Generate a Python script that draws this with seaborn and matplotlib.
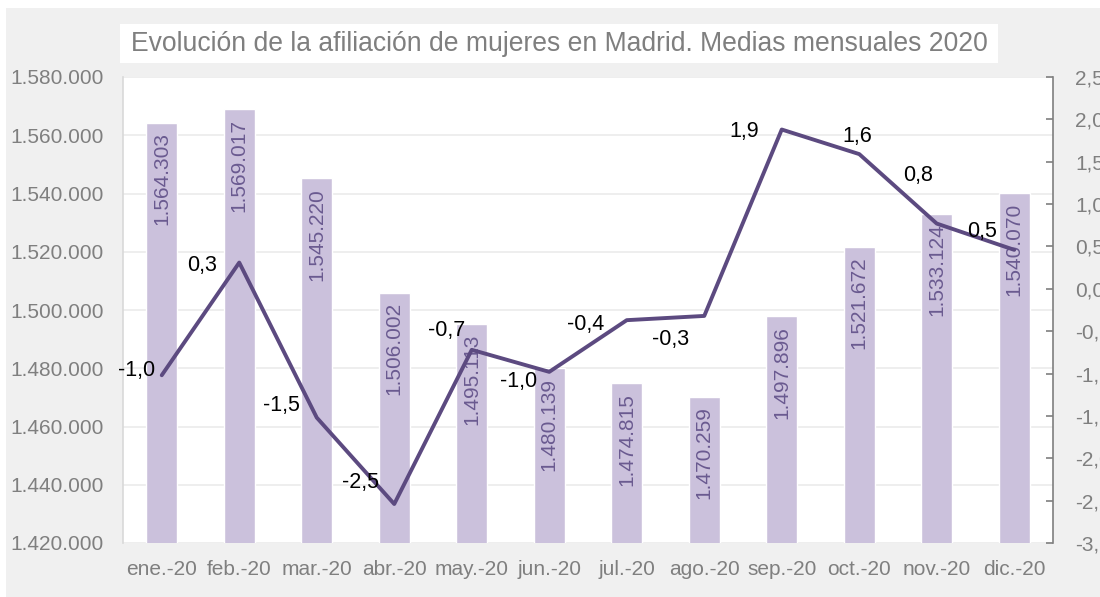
import numpy as np
import seaborn as sns
import matplotlib.pyplot as plt
from matplotlib.patches import Rectangle

# Data
months = ['ene.-20', 'feb.-20', 'mar.-20', 'abr.-20', 'may.-20', 'jun.-20',
          'jul.-20', 'ago.-20', 'sep.-20', 'oct.-20', 'nov.-20', 'dic.-20']
afiliadas = [1564303, 1569017, 1545220, 1506002, 1495113, 1480139,
             1474815, 1470259, 1497896, 1521672, 1533124, 1540070]
variacion = [-1.02, 0.31, -1.52, -2.54, -0.72, -0.98,
             -0.37, -0.32, 1.88, 1.59, 0.77, 0.46]

title = 'Evolución de la afiliación de mujeres en Madrid. Medias mensuales 2020'

# label offsets for the line values (pixels, x right / y up)
line_label_offsets = [(-25, 5), (-37, -3), (-35, 12), (-34, 22), (-25, 19), (-31, -10),
                      (-41, -4), (-34, -24), (-38, -2), (-2, 18), (-19, 48), (-32, 18)]

bar_color = '#cbc1dc'
line_color = '#5c4a80'
grey = '#7f7f7f'

sns.set_style('white')
plt.rcParams['font.family'] = ['Liberation Sans', 'DejaVu Sans']

fig = plt.figure(figsize=(11, 5.97), dpi=100)
fig.patch.set_facecolor('white')
W, H = 1100, 597
# grey panel + white title box
fig.patches.append(Rectangle((6 / W, 0), (W - 6) / W, (H - 8) / H, transform=fig.transFigure,
                             facecolor='#f0f0f0', edgecolor='none', zorder=-10))
fig.patches.append(Rectangle((120 / W, 1 - 63 / H), 878 / W, 39 / H, transform=fig.transFigure,
                             facecolor='white', edgecolor='none', zorder=-5))
fig.text(559 / W, 1 - 44 / H, title, ha='center', va='center', fontsize=19.1, color=grey)

ax = fig.add_axes([123 / W, 1 - 543 / H, 930 / W, 466 / H])
ax.set_facecolor('white')

sns.barplot(x=months, y=afiliadas, color=bar_color, saturation=1, width=0.4, ax=ax, zorder=2)
ax.set_ylim(1420000, 1580000)
ax.set_xlim(-0.5, 11.5)
yt = np.arange(1420000, 1580001, 20000)
ax.set_yticks(yt)
ax.set_yticklabels([f'{v:,}'.replace(',', '.') for v in yt])
ax.tick_params(axis='y', length=0, pad=14, labelsize=15, labelcolor=grey)
ax.tick_params(axis='x', length=0, pad=12, labelsize=15, labelcolor=grey)
ax.set_axisbelow(True)
ax.yaxis.grid(True, color='#ebebeb', linewidth=1.2)
for s in ['top', 'right', 'bottom']:
    ax.spines[s].set_visible(False)
ax.spines['left'].set_color('#d9d9d9')
ax.spines['left'].set_linewidth(1.2)

for i, v in enumerate(afiliadas):
    ax.annotate(f'{v:,}'.replace(',', '.'), (i, v), xytext=(0, -7), textcoords='offset points',
                rotation=90, ha='center', va='top', fontsize=15, color='#6a5a90', zorder=3)

ax2 = ax.twinx()
sns.lineplot(x=np.arange(len(months)), y=variacion, ax=ax2, color=line_color, linewidth=2.8)
ax2.set_ylim(-3.0, 2.5)
ax2.set_xlim(-0.5, 11.5)
yt2 = np.arange(-3.0, 2.51, 0.5)
ax2.set_yticks(yt2)
ax2.set_yticklabels([f'{v:.1f}'.replace('.', ',') for v in yt2])
ax2.tick_params(axis='y', direction='in', length=5, width=1.2, color=grey, pad=16,
                labelsize=15, labelcolor=grey)
for s in ['top', 'left', 'bottom']:
    ax2.spines[s].set_visible(False)
ax2.spines['right'].set_color(grey)
ax2.spines['right'].set_linewidth(1.2)

for i, v in enumerate(variacion):
    dx, dy = line_label_offsets[i]
    ax2.annotate(f'{v:.1f}'.replace('.', ','), (i, v), xytext=(dx * 0.72, dy * 0.72),
                 textcoords='offset points', ha='center', va='center', fontsize=15.5, color='black')

fig.savefig('out.png', dpi=100)
